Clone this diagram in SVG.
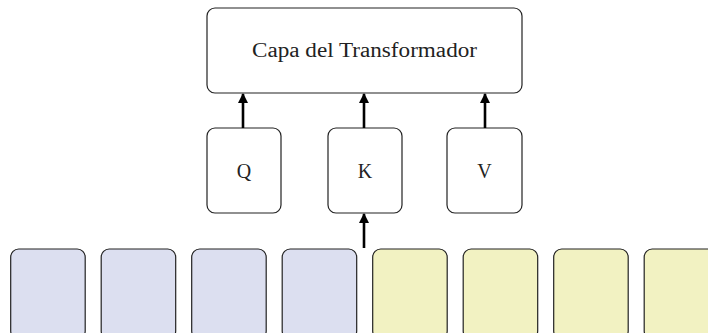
<svg xmlns="http://www.w3.org/2000/svg" width="708" height="333" viewBox="0 0 708 333">
<defs>
<style>
.box{fill:#ffffff;stroke:#222;stroke-width:1.2}
.blue{fill:#dcdff0;stroke:#222;stroke-width:1.2}
.yel{fill:#f2f2c2;stroke:#222;stroke-width:1.2}
.lbl{font-family:"Liberation Serif","Times New Roman",serif;font-size:20px;fill:#222;text-anchor:middle;dominant-baseline:central}
.arr{stroke:#000;stroke-width:2.6;fill:none;marker-end:url(#ah)}
</style>
<marker id="ah" viewBox="0 0 10 12" refX="9" refY="6" markerWidth="10" markerHeight="12" markerUnits="userSpaceOnUse" orient="auto">
<path d="M0,1 L10,6 L0,11 Z" fill="#000"/>
</marker>
</defs>
<g id="transformer">
<rect class="box" x="207" y="8" width="315" height="85" rx="8"/>
<text class="lbl" x="364.5" y="50" textLength="225" lengthAdjust="spacingAndGlyphs">Capa del Transformador</text>
</g>
<g id="Q">
<rect class="box" x="207" y="128" width="74" height="85" rx="8"/>
<text class="lbl" x="244" y="171">Q</text>
</g>
<g id="K">
<rect class="box" x="328" y="128" width="74" height="85" rx="8"/>
<text class="lbl" x="365" y="171">K</text>
</g>
<g id="V">
<rect class="box" x="447" y="128" width="75" height="85" rx="8"/>
<text class="lbl" x="484.5" y="171">V</text>
</g>
<g id="tokens">
<rect id="t1" class="blue" x="10.7" y="249" width="74.5" height="90" rx="8"/>
<rect id="t2" class="blue" x="101.2" y="249" width="74.5" height="90" rx="8"/>
<rect id="t3" class="blue" x="191.7" y="249" width="74.5" height="90" rx="8"/>
<rect id="t4" class="blue" x="282.2" y="249" width="74.5" height="90" rx="8"/>
<rect id="t5" class="yel" x="372.7" y="249" width="74.5" height="90" rx="8"/>
<rect id="t6" class="yel" x="463.2" y="249" width="74.5" height="90" rx="8"/>
<rect id="t7" class="yel" x="553.7" y="249" width="74.5" height="90" rx="8"/>
<rect id="t8" class="yel" x="644.2" y="249" width="74.5" height="90" rx="8"/>
</g>
<g id="connectors">
<line class="arr" x1="243" y1="128" x2="243" y2="94"/>
<line class="arr" x1="364" y1="128" x2="364" y2="94"/>
<line class="arr" x1="485" y1="128" x2="485" y2="94"/>
<line class="arr" x1="364" y1="248" x2="364" y2="214"/>
</g>
</svg>
